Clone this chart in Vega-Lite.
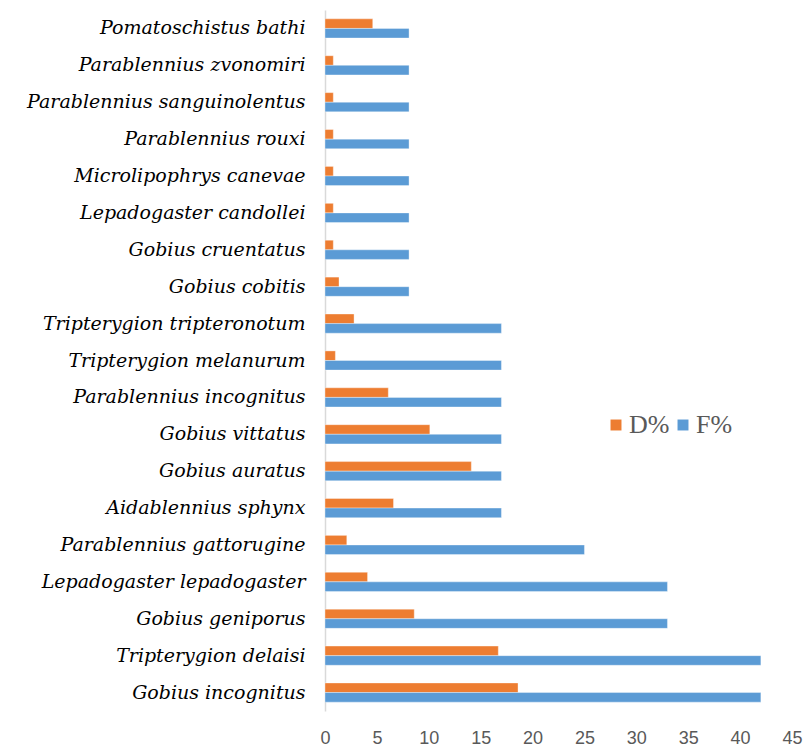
{
  "$schema": "https://vega.github.io/schema/vega-lite/v6.json",
  "width": 467,
  "height": 701,
  "autosize": "none",
  "padding": {"left": 325, "top": 10, "right": 13, "bottom": 40},
  "background": "white",
  "config": {"view": {"stroke": null}},
  "data": {
    "values": [
      {"species": "Pomatoschistus bathi", "series": "D%", "value": 4.6},
      {"species": "Pomatoschistus bathi", "series": "F%", "value": 8.1},
      {"species": "Parablennius zvonomiri", "series": "D%", "value": 0.8},
      {"species": "Parablennius zvonomiri", "series": "F%", "value": 8.1},
      {"species": "Parablennius sanguinolentus", "series": "D%", "value": 0.8},
      {"species": "Parablennius sanguinolentus", "series": "F%", "value": 8.1},
      {"species": "Parablennius rouxi", "series": "D%", "value": 0.8},
      {"species": "Parablennius rouxi", "series": "F%", "value": 8.1},
      {"species": "Microlipophrys canevae", "series": "D%", "value": 0.8},
      {"species": "Microlipophrys canevae", "series": "F%", "value": 8.1},
      {"species": "Lepadogaster candollei", "series": "D%", "value": 0.8},
      {"species": "Lepadogaster candollei", "series": "F%", "value": 8.1},
      {"species": "Gobius cruentatus", "series": "D%", "value": 0.8},
      {"species": "Gobius cruentatus", "series": "F%", "value": 8.1},
      {"species": "Gobius cobitis", "series": "D%", "value": 1.35},
      {"species": "Gobius cobitis", "series": "F%", "value": 8.1},
      {"species": "Tripterygion tripteronotum", "series": "D%", "value": 2.8},
      {"species": "Tripterygion tripteronotum", "series": "F%", "value": 17.0},
      {"species": "Tripterygion melanurum", "series": "D%", "value": 1.0},
      {"species": "Tripterygion melanurum", "series": "F%", "value": 17.0},
      {"species": "Parablennius incognitus", "series": "D%", "value": 6.1},
      {"species": "Parablennius incognitus", "series": "F%", "value": 17.0},
      {"species": "Gobius vittatus", "series": "D%", "value": 10.1},
      {"species": "Gobius vittatus", "series": "F%", "value": 17.0},
      {"species": "Gobius auratus", "series": "D%", "value": 14.1},
      {"species": "Gobius auratus", "series": "F%", "value": 17.0},
      {"species": "Aidablennius sphynx", "series": "D%", "value": 6.6},
      {"species": "Aidablennius sphynx", "series": "F%", "value": 17.0},
      {"species": "Parablennius gattorugine", "series": "D%", "value": 2.1},
      {"species": "Parablennius gattorugine", "series": "F%", "value": 25.0},
      {"species": "Lepadogaster lepadogaster", "series": "D%", "value": 4.1},
      {"species": "Lepadogaster lepadogaster", "series": "F%", "value": 33.0},
      {"species": "Gobius geniporus", "series": "D%", "value": 8.6},
      {"species": "Gobius geniporus", "series": "F%", "value": 33.0},
      {"species": "Tripterygion delaisi", "series": "D%", "value": 16.7},
      {"species": "Tripterygion delaisi", "series": "F%", "value": 42.0},
      {"species": "Gobius incognitus", "series": "D%", "value": 18.6},
      {"species": "Gobius incognitus", "series": "F%", "value": 42.0}
    ]
  },
  "mark": {"type": "bar", "stroke": "white", "strokeWidth": 0.6, "strokeOpacity": 0.6},
  "encoding": {
    "y": {
      "field": "species",
      "type": "nominal",
      "sort": null,
      "scale": {"paddingInner": 0.48, "paddingOuter": 0.24},
      "axis": {
        "title": null,
        "ticks": false,
        "domainColor": "#D9D9D9",
        "domainWidth": 1.5,
        "labelFont": "DejaVu Serif",
        "labelFontStyle": "italic",
        "labelFontSize": 19,
        "labelColor": "#000000",
        "labelPadding": 20,
        "labelLimit": 330
      }
    },
    "yOffset": {"field": "series", "type": "nominal", "sort": ["D%", "F%"]},
    "x": {
      "field": "value",
      "type": "quantitative",
      "scale": {"domain": [0, 45], "nice": false},
      "axis": {
        "title": null,
        "values": [0, 5, 10, 15, 20, 25, 30, 35, 40, 45],
        "grid": false,
        "domain": false,
        "ticks": false,
        "labelFont": "Liberation Sans",
        "labelFontSize": 18,
        "labelColor": "#595959",
        "labelPadding": 27,
        "labelBaseline": "middle",
        "labelFlush": false
      }
    },
    "color": {
      "field": "series",
      "type": "nominal",
      "scale": {"domain": ["D%", "F%"], "range": ["#ED7D31", "#5B9BD5"]},
      "legend": {
        "title": null,
        "orient": "none",
        "direction": "horizontal",
        "legendX": 278,
        "legendY": 402,
        "symbolType": "square",
        "symbolSize": 120,
        "symbolStrokeWidth": 0,
        "labelFont": "Liberation Serif",
        "labelFontSize": 26,
        "labelColor": "#595959",
        "columnPadding": 0,
        "labelOffset": 0
      }
    }
  }
}
